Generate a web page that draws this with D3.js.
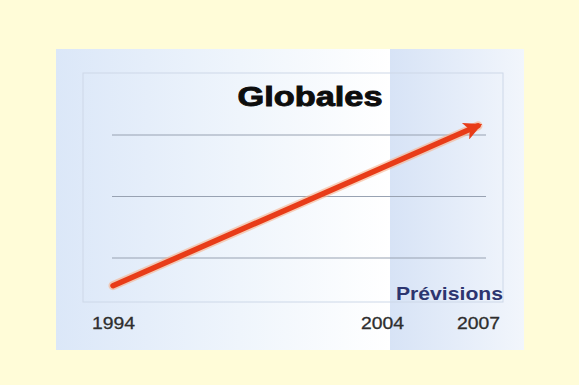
<!DOCTYPE html>
<html>
<head>
<meta charset="utf-8">
<script src="https://cdn.jsdelivr.net/npm/d3@7"></script>
<style>
  html, body { margin: 0; padding: 0; background: #fffcd8; }
  svg { display: block; }
</style>
</head>
<body>
<svg id="chart" width="579" height="385"></svg>
<script>
// ---- data ----
const title = "Globales";
const forecastLabel = "Prévisions";
const tickYears = [1994, 2004, 2007];
const tickLabels = ["1994", "2004", "2007"];
const gridValues = [1, 2, 3];
const trendYears = [1994, 2007];
const trendValues = [0.55, 3.15];
const forecastStart = 2004;

const svg = d3.select("#chart");

const defs = svg.append("defs");
const g1 = defs.append("linearGradient").attr("id", "leftGrad").attr("x1", 0).attr("x2", 1).attr("y1", 0).attr("y2", 0);
g1.append("stop").attr("offset", "0%").attr("stop-color", "#dbe7f8");
g1.append("stop").attr("offset", "55%").attr("stop-color", "#eff5fc");
g1.append("stop").attr("offset", "100%").attr("stop-color", "#ffffff");
const g2 = defs.append("linearGradient").attr("id", "bandGrad").attr("x1", 0).attr("x2", 1).attr("y1", 0).attr("y2", 0);
g2.append("stop").attr("offset", "0%").attr("stop-color", "#d7e3f6");
g2.append("stop").attr("offset", "100%").attr("stop-color", "#f2f6fc");

defs.append("marker")
  .attr("id", "arrowHead")
  .attr("viewBox", "0 0 10 10")
  .attr("refX", 7.5).attr("refY", 5)
  .attr("markerWidth", 3.8).attr("markerHeight", 3.3)
  .attr("markerUnits", "strokeWidth")
  .attr("orient", "auto")
  .append("path")
  .attr("d", "M0,0 L10,5 L0,10 L2.5,5 Z")
  .attr("fill", "#e83c18");

// panel
const panel = { left: 56, top: 49, right: 524, bottom: 350 };
const plot = { left: 83, top: 73, right: 503, bottom: 302 };

const x = d3.scaleLinear()
  .domain([1994, 2004, 2007])
  .range([113, 382, 478]);
const y = d3.scaleLinear()
  .domain([1, 3])
  .range([258, 135]);

const bandX = x(forecastStart) + 8;

svg.append("rect")
  .attr("x", panel.left).attr("y", panel.top)
  .attr("width", bandX - panel.left).attr("height", panel.bottom - panel.top)
  .attr("fill", "url(#leftGrad)");
svg.append("rect")
  .attr("x", bandX).attr("y", panel.top)
  .attr("width", panel.right - bandX).attr("height", panel.bottom - panel.top)
  .attr("fill", "url(#bandGrad)");

// inner box
svg.append("rect")
  .attr("x", plot.left).attr("y", plot.top)
  .attr("width", plot.right - plot.left).attr("height", plot.bottom - plot.top)
  .attr("fill", "none")
  .attr("stroke", "#cdd8e8")
  .attr("stroke-width", 1);

// gridlines
svg.append("g").selectAll("line")
  .data(gridValues)
  .join("line")
  .attr("x1", 112).attr("x2", 486)
  .attr("y1", d => y(d)).attr("y2", d => y(d))
  .attr("stroke", "#98a2b2")
  .attr("stroke-width", 1.2);

// title
svg.append("text")
  .attr("x", 310).attr("y", 106)
  .attr("text-anchor", "middle")
  .attr("font-family", "Liberation Sans, Arial, sans-serif")
  .attr("font-weight", "bold")
  .attr("font-size", 27)
  .attr("textLength", 145)
  .attr("lengthAdjust", "spacingAndGlyphs")
  .attr("fill", "#0d0d0d")
  .attr("stroke", "#0d0d0d")
  .attr("stroke-width", 0.9)
  .text(title);

// trend arrow
const pts = trendYears.map((yr, i) => [x(yr), y(trendValues[i])]);
const line = d3.line();
svg.append("path")
  .attr("d", line(pts))
  .attr("stroke", "#f6b08a")
  .attr("stroke-opacity", 0.6)
  .attr("stroke-width", 9)
  .attr("stroke-linecap", "round")
  .attr("fill", "none");
svg.append("path")
  .attr("d", line(pts))
  .attr("stroke", "#e83c18")
  .attr("stroke-width", 5.5)
  .attr("stroke-linecap", "round")
  .attr("fill", "none")
  .attr("marker-end", "url(#arrowHead)");

// forecast label
svg.append("text")
  .attr("x", 503).attr("y", 300)
  .attr("text-anchor", "end")
  .attr("font-family", "Liberation Sans, Arial, sans-serif")
  .attr("font-weight", "bold")
  .attr("font-size", 19)
  .attr("textLength", 107)
  .attr("lengthAdjust", "spacingAndGlyphs")
  .attr("fill", "#2c3570")
  .text(forecastLabel);

// year ticks
const xAxis = d3.axisBottom(x)
  .tickValues(tickYears)
  .tickFormat((d, i) => tickLabels[i])
  .tickSize(0)
  .tickPadding(0);
const ax = svg.append("g")
  .attr("transform", "translate(0,317)")
  .call(xAxis);
ax.select(".domain").remove();
ax.selectAll("text")
  .attr("dy", "0.72em")
  .attr("font-family", "Liberation Sans, Arial, sans-serif")
  .attr("font-size", 17)
  .attr("textLength", 43)
  .attr("lengthAdjust", "spacingAndGlyphs")
  .attr("fill", "#2e2e2e")
  .attr("stroke", "#2e2e2e")
  .attr("stroke-width", 0.3);
</script>
</body>
</html>
